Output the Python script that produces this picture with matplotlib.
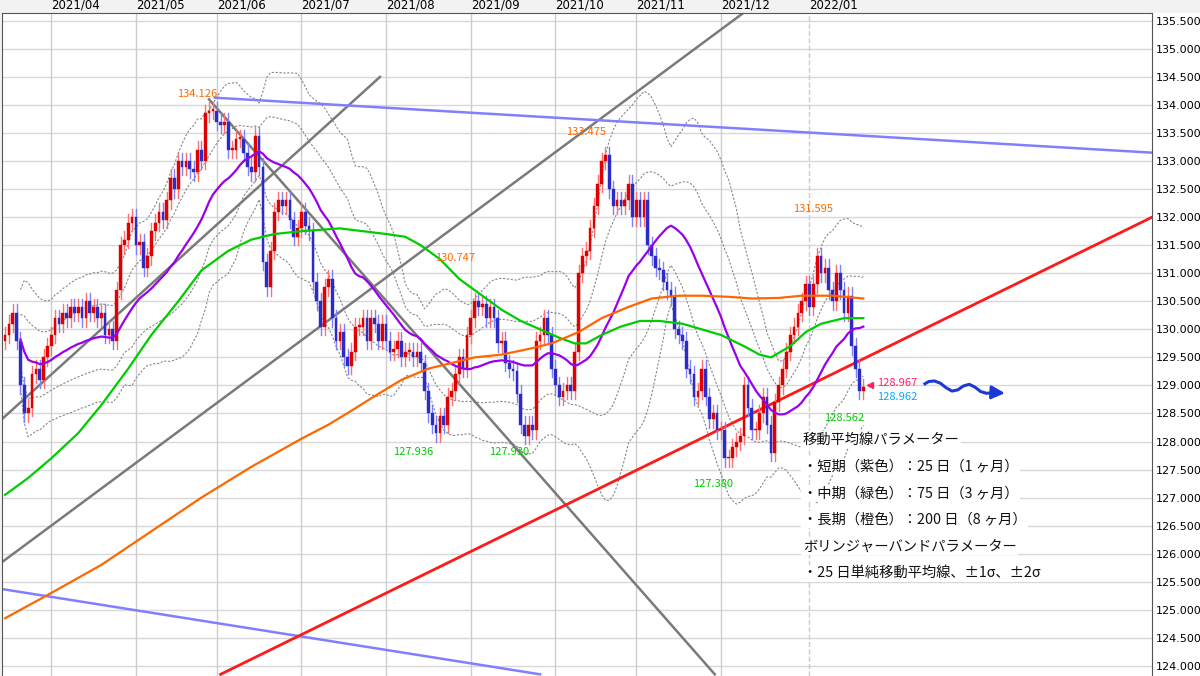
import numpy as np
import pandas as pd
import matplotlib
matplotlib.use("Agg")
import matplotlib.pyplot as plt
from matplotlib.patches import Rectangle

plt.rcParams['font.family'] = ['Noto Sans CJK JP', 'DejaVu Sans']

dates = pd.bdate_range("2021-03-16", "2022-01-21")

closes = [
    129.9, 130.1, 130.3, 129.8, 129.0, 128.5, 128.6, 129.2, 129.3, 129.1, 129.5, 129.7,
    129.9, 130.2, 130.1, 130.3, 130.2, 130.4, 130.3, 130.4, 130.2, 130.5, 130.3, 130.4,
    130.2, 130.3, 129.9, 130.0, 129.8, 130.7, 131.5, 131.6, 131.9, 132.0,
    131.5, 131.55, 131.1, 131.3, 131.75, 131.9, 132.1, 131.95, 132.3, 132.7, 132.5,
    133.0, 132.9, 133.0, 132.85, 132.8, 133.2, 133.0, 133.85, 133.9, 133.9,
    133.7, 133.65, 133.7, 133.2, 133.2, 133.4, 133.4, 133.15, 132.9, 132.8, 133.45,
    132.9, 131.2, 130.75, 131.4, 132.1, 132.3, 132.2, 132.3, 131.95, 131.65, 131.8,
    132.1, 131.85, 131.75, 130.85, 130.5, 130.05, 130.75, 130.9, 130.2, 129.8, 129.95,
    129.5, 129.35, 129.6, 130.05, 130.05, 130.2, 129.8, 130.2, 130.1, 129.8, 130.1,
    129.8, 129.6, 129.65, 129.8, 129.5, 129.6, 129.6, 129.5, 129.6, 129.4, 128.9,
    128.5, 128.3, 128.15, 128.45, 128.3, 128.8, 128.9, 129.2, 129.5, 129.3, 129.9,
    130.2, 130.5, 130.4, 130.45, 130.2, 130.4, 130.2, 129.75, 129.8, 129.4, 129.3,
    129.25, 128.85, 128.3, 128.1, 128.3, 128.2, 129.8, 129.9, 130.2, 129.9, 129.3,
    129.0, 128.8, 128.9, 129.0, 128.9, 129.6, 131.0, 131.3, 131.4, 131.8, 132.2,
    132.6, 133.0, 133.1, 132.5, 132.2, 132.3, 132.2, 132.3, 132.6, 132.0,
    132.3, 132.0, 132.3, 131.5, 131.3, 131.1, 131.05, 130.85, 130.7, 130.6, 130.0,
    129.9, 129.8, 129.3, 129.2, 128.8, 128.9, 129.3, 128.8, 128.4, 128.5, 128.2,
    128.2, 127.7, 127.7, 127.9, 128.0, 128.1, 129.0, 128.6, 128.2, 128.2, 128.5,
    128.8, 128.3, 127.8, 128.7, 129.0, 129.3, 129.6, 129.9, 130.05, 130.3, 130.5, 130.8,
    130.4, 130.8, 131.3, 131.0, 131.1, 130.7, 130.5, 131.0, 130.7, 130.3, 130.6,
    129.7, 129.3, 128.9, 128.97,
]
first_open = 129.8

# 75-day and 200-day MA (bar index, value)
ma75_idx = [0, 6, 12, 19, 25, 32, 38, 45, 51, 58, 64, 70, 77, 87, 99, 104, 108, 113, 118, 124,
            129, 134, 139, 144, 148, 151, 155, 160, 165, 170, 176, 181, 186, 192, 196, 199, 204,
            208, 212, 218, 223]
ma75_val = [127.05, 127.35, 127.7, 128.15, 128.65, 129.3, 129.9, 130.5, 131.05, 131.4, 131.6,
            131.7, 131.75, 131.8, 131.7, 131.65, 131.5, 131.25, 130.9, 130.6, 130.35, 130.15,
            130.0, 129.85, 129.75, 129.75, 129.9, 130.05, 130.15, 130.15, 130.1, 130.0, 129.9,
            129.7, 129.55, 129.5, 129.7, 129.95, 130.1, 130.2, 130.2]
ma200_idx = [0, 12, 25, 38, 51, 64, 77, 84, 90, 97, 103, 110, 116, 122, 129, 136, 142, 149,
             155, 162, 168, 175, 181, 188, 194, 201, 207, 215, 223]
ma200_val = [124.85, 125.3, 125.8, 126.4, 127.0, 127.55, 128.05, 128.3, 128.55, 128.85, 129.1,
             129.3, 129.4, 129.5, 129.55, 129.65, 129.75, 129.95, 130.2, 130.4, 130.55, 130.6,
             130.6, 130.58, 130.55, 130.56, 130.6, 130.6, 130.55]

month_labels = ["2021/04", "2021/05", "2021/06", "2021/07", "2021/08", "2021/09",
                "2021/10", "2021/11", "2021/12", "2022/01"]

# trend lines: (x0, y0, x1, y1) in bar index / price
trend_blue = [(54.5, 134.13, 298, 133.15), (-0.8, 125.37, 139, 123.85)]
trend_red = [(56, 123.85, 298, 132.0)]
trend_gray = [(-0.8, 128.4, 97.4, 134.5), (-0.8, 125.85, 192, 135.65), (53, 134.1, 184.4, 123.85)]

n = len(closes)
x = np.arange(n)
c = np.array(closes)
o = np.concatenate([[first_open], c[:-1]])
hi = np.maximum(o, c) + 0.15
lo = np.minimum(o, c) - 0.15

s = pd.Series(c)
ma25 = s.rolling(25, min_periods=5).mean()
sd25 = s.rolling(25, min_periods=5).std(ddof=0)

fig = plt.figure(figsize=(12, 6.76), dpi=100, facecolor="#f2f2f2")
ax = fig.add_axes([2 / 1200, 0, 1150 / 1200, 663 / 676])
ax.set_facecolor("white")
ax.set_xlim(-0.8, 298)
ax.set_ylim(123.82, 135.64)

# grid
for yv in np.arange(124.0, 135.51, 0.5):
    ax.axhline(yv, color="#d8d8d8", lw=1, zorder=0)
month_pos = []
for lab in month_labels:
    y_, m_ = lab.split("/")
    idx = int(np.argmax(dates >= pd.Timestamp(int(y_), int(m_), 1)))
    month_pos.append(idx)
for i, p in enumerate(month_pos):
    ax.axvline(p, color="#cccccc", lw=1, ls="--" if i == len(month_pos) - 1 else "-", zorder=0)

# bollinger
for k in (1, 2):
    ax.plot(x, ma25 + k * sd25, color="#888888", lw=0.8, ls=(0, (2, 1.5)), zorder=1)
    ax.plot(x, ma25 - k * sd25, color="#888888", lw=0.8, ls=(0, (2, 1.5)), zorder=1)

# trend lines
for (x0, y0, x1, y1) in trend_gray:
    ax.plot([x0, x1], [y0, y1], color="#7a7a7a", lw=1.8, zorder=2)
for (x0, y0, x1, y1) in trend_blue:
    ax.plot([x0, x1], [y0, y1], color="#8080ff", lw=1.8, zorder=2)
for (x0, y0, x1, y1) in trend_red:
    ax.plot([x0, x1], [y0, y1], color="#ff1a1a", lw=2, zorder=2)

# candles
for i in range(n):
    up = c[i] >= o[i]
    body = "#e00000" if up else "#2b2bc8"
    wick = "#ff7070" if up else "#8080ff"
    ax.plot([i, i], [lo[i], hi[i]], color=wick, lw=1, zorder=3)
    ax.add_patch(Rectangle((i - 0.35, min(o[i], c[i])), 0.7, max(abs(c[i] - o[i]), 0.03),
                           facecolor=body, edgecolor=body, lw=0.3, zorder=4))

# moving averages
ax.plot(x, ma25, color="#9900ee", lw=1.6, zorder=5)
ax.plot(ma75_idx, ma75_val, color="#00cc00", lw=1.6, zorder=5)
ax.plot(ma200_idx, ma200_val, color="#ff6600", lw=1.6, zorder=5)

# price labels
orange = "#ff6a00"
green = "#00cc00"
for (xi, yi, t, col) in [(50, 134.2, "134.126", orange), (151, 133.52, "133.475", orange),
                         (117, 131.28, "130.747", orange), (210, 132.15, "131.595", orange),
                         (106, 127.81, "127.936", green), (131, 127.81, "127.930", green),
                         (184, 127.24, "127.380", green), (218, 128.42, "128.562", green)]:
    ax.text(xi, yi, t, color=col, fontsize=8, ha="center", va="center", zorder=6)

ax.plot([224.7], [129.0], marker="<", color="#ff2060", ms=5, zorder=6)
ax.text(226.5, 129.05, "128.967", color="#ff2060", fontsize=8, va="center")
ax.text(226.5, 128.79, "128.962", color="#00aaff", fontsize=8, va="center")

# squiggle arrow
sq_x = [239, 240, 241.5, 243, 244.5, 246, 247.5, 249, 250.5, 252, 253.5, 255, 256.5]
sq_y = [129.03, 129.07, 129.08, 129.04, 128.96, 128.9, 128.92, 128.99, 129.02, 128.97, 128.89, 128.86, 128.87]
ax.plot(sq_x, sq_y, color="#1a3ad8", lw=2.2, zorder=6)
ax.annotate("", xy=(260.5, 128.86), xytext=(255.5, 128.88),
            arrowprops=dict(arrowstyle="-|>", color="#1a3ad8", lw=2, mutation_scale=20), zorder=6)

# parameter notes
notes = ["移動平均線パラメーター", "・短期（紫色）：25 日（1 ヶ月）", "・中期（緑色）：75 日（3 ヶ月）",
         "・長期（橙色）：200 日（8 ヶ月）", "ボリンジャーバンドパラメーター", "・25 日単純移動平均線、±1σ、±2σ"]
for k, t in enumerate(notes):
    ax.text(207.3, 128.03 - k * 0.475, t, fontsize=10.3, color="#111111", va="center", zorder=7,
            bbox=dict(facecolor="white", edgecolor="none", pad=1))

# axes
ax.yaxis.tick_right()
ax.set_yticks(np.arange(124.0, 135.51, 0.5))
ax.set_yticklabels([f"{v:.3f}" for v in np.arange(124.0, 135.51, 0.5)], fontsize=8,
                   family="DejaVu Sans")
ax.tick_params(axis="y", length=0, pad=3)
ax.xaxis.tick_top()
ax.set_xticks(month_pos)
ax.set_xticklabels(month_labels, fontsize=8.5, ha="left", family="DejaVu Sans")
ax.tick_params(axis="x", length=0, pad=1)
for sp in ax.spines.values():
    sp.set_color("#555555")
ax.spines["bottom"].set_visible(False)

# right label area white
fig.patches.append(Rectangle((1152 / 1200, 0), 48 / 1200, 663 / 676, transform=fig.transFigure,
                             facecolor="white", edgecolor="none", zorder=-1))

fig.savefig("out.png", dpi=100, facecolor=fig.get_facecolor())
